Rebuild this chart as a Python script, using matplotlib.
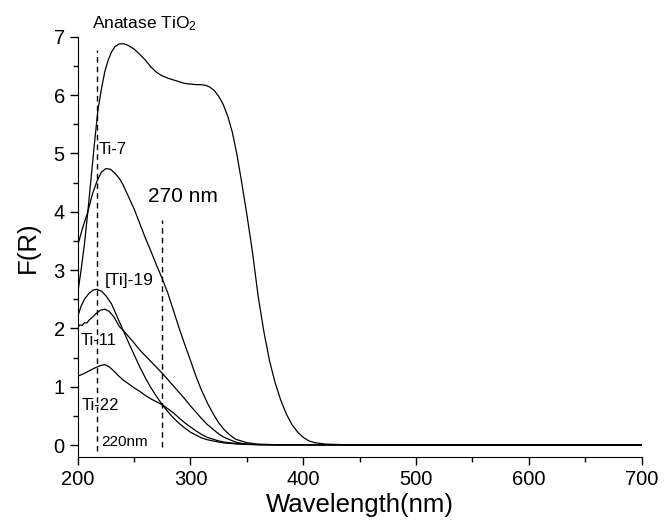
import matplotlib
matplotlib.use("Agg")
import matplotlib.pyplot as plt

plt.rcParams['font.family'] = ['Liberation Sans', 'DejaVu Sans']
plt.rcParams['mathtext.fontset'] = 'custom'
plt.rcParams['mathtext.rm'] = 'Liberation Sans'
plt.rcParams['mathtext.it'] = 'Liberation Sans'

# ---- data ----
anatase_x = [200, 203, 206, 209, 212, 215, 218, 221, 224, 227, 230, 233, 237, 241, 245, 250, 255, 260, 265,
             270, 275, 280, 285, 290, 295, 300, 305, 309, 313, 317, 321, 325, 329, 333, 337, 341, 345, 350, 355, 360,
             365, 370, 375, 380, 385, 390, 395, 400, 405, 410, 420, 440, 700]
anatase_y = [2.6, 3.0, 3.45, 4.0, 4.6, 5.2, 5.75, 6.1, 6.4, 6.6, 6.74, 6.83, 6.88, 6.88, 6.85, 6.79, 6.7, 6.6, 6.48,
             6.39, 6.33, 6.29, 6.26, 6.23, 6.2, 6.19, 6.18, 6.18, 6.17, 6.14, 6.08, 5.98, 5.84, 5.64, 5.37, 5.0, 4.55,
             3.95, 3.3, 2.55, 1.95, 1.45, 1.07, 0.77, 0.53, 0.35, 0.22, 0.13, 0.07, 0.04, 0.015, 0.003, 0.0]

ti7_x = [200, 204, 209, 213, 217, 221, 225, 229, 233, 237, 240, 245, 250, 255, 260, 265, 270, 275, 280, 285,
         290, 295, 300, 305, 310, 315, 320, 325, 330, 335, 340, 350, 360, 380, 700]
ti7_y = [3.42, 3.7, 4.0, 4.3, 4.52, 4.68, 4.74, 4.73, 4.66, 4.57, 4.47, 4.26, 4.05, 3.8, 3.55, 3.32, 3.08, 2.85, 2.6, 2.3,
         2.0, 1.72, 1.45, 1.17, 0.93, 0.72, 0.54, 0.38, 0.26, 0.17, 0.1, 0.04, 0.015, 0.003, 0.0]

ti19_x = [200, 203, 206, 210, 214, 217, 221, 225, 230, 235, 240, 245, 250, 255, 260, 265, 270, 275, 280, 285,
          290, 295, 300, 305, 310, 315, 320, 325, 330, 340, 350, 370, 700]
ti19_y = [2.2, 2.38, 2.5, 2.6, 2.66, 2.67, 2.64, 2.56, 2.42, 2.2, 1.98, 1.76, 1.55, 1.34, 1.15, 0.98, 0.83, 0.69, 0.57, 0.46,
          0.37, 0.29, 0.22, 0.17, 0.12, 0.09, 0.07, 0.05, 0.035, 0.02, 0.01, 0.003, 0.0]

ti11_x = [200, 202, 204, 206, 208, 210, 213, 216, 220, 224, 228, 232, 237, 242, 250, 255, 260, 265, 270, 275, 280,
          285, 290, 295, 300, 305, 310, 315, 320, 325, 330, 335, 340, 345, 350, 360, 700]
ti11_y = [2.02, 2.06, 2.05, 2.1, 2.09, 2.14, 2.19, 2.25, 2.31, 2.33, 2.29, 2.2, 2.03, 1.93, 1.75, 1.63, 1.53, 1.43, 1.33,
          1.23, 1.12, 1.01, 0.9, 0.79, 0.67, 0.56, 0.45, 0.35, 0.27, 0.19, 0.13, 0.09, 0.05, 0.03, 0.015, 0.005, 0.0]

ti22_x = [200, 205, 210, 215, 220, 224, 228, 232, 236, 240, 245, 250, 255, 260, 265, 270, 275, 280, 285, 290,
          295, 300, 305, 310, 315, 320, 325, 330, 340, 350, 370, 700]
ti22_y = [1.18, 1.22, 1.27, 1.32, 1.36, 1.38, 1.34, 1.27, 1.19, 1.12, 1.05, 0.98, 0.92, 0.85, 0.79, 0.74, 0.69, 0.62,
          0.55, 0.46, 0.38, 0.31, 0.24, 0.18, 0.13, 0.1, 0.07, 0.05, 0.025, 0.012, 0.003, 0.0]

# reference lines (wavelength, bottom, top)
ref220 = (217, -0.1, 6.77)
ref270 = (274.5, -0.04, 3.86)

labels = ["Anatase TiO$_2$", "Ti-7", "[Ti]-19", "Ti-11", "Ti-22"]

fig = plt.figure(figsize=(6.64, 5.26), dpi=100)
ax = fig.add_axes([0.117, 0.1318, 0.8494, 0.7982])

for xs, ys in [(anatase_x, anatase_y), (ti7_x, ti7_y), (ti19_x, ti19_y), (ti11_x, ti11_y), (ti22_x, ti22_y)]:
    ax.plot(xs, ys, color='black', lw=0.9)

for xv, y0, y1 in [ref220, ref270]:
    ax.plot([xv, xv], [y0, y1], color='black', lw=1.0, linestyle=(0, (4, 3)))

ax.text(212.7, 7.14, labels[0], fontsize=12.5, va='baseline', ha='left')
ax.text(218.3, 4.99, labels[1], fontsize=12, va='baseline', ha='left')
ax.text(223.6, 2.74, labels[2], fontsize=12.5, va='baseline', ha='left')
ax.text(202.9, 1.72, labels[3], fontsize=12, va='baseline', ha='left')
ax.text(203.5, 0.60, labels[4], fontsize=12, va='baseline', ha='left')
ax.text(262.6, 4.16, "270 nm", fontsize=15, va='baseline', ha='left')
ax.text(221.3, -0.02, "220nm", fontsize=11, va='baseline', ha='left')

ax.set_xlim(200, 700)
ax.set_ylim(-0.2, 7)
ax.set_xticks([200, 300, 400, 500, 600, 700])
ax.set_xticks(range(250, 700, 100), minor=True)
ax.set_yticks(range(0, 8))
ax.set_yticks([0.5 + i for i in range(7)], minor=True)

for s in ['top', 'right']:
    ax.spines[s].set_visible(False)
ax.spines['left'].set_bounds(-0.2, 7)
ax.tick_params(which='major', direction='out', length=5.8, width=1, labelsize=14.5)
ax.tick_params(which='minor', direction='out', length=3.8, width=1)
ax.set_xlabel("Wavelength(nm)", fontsize=18.5, labelpad=3)
ax.set_ylabel("F(R)", fontsize=18.5, labelpad=10)

fig.savefig("out.png", dpi=100)
